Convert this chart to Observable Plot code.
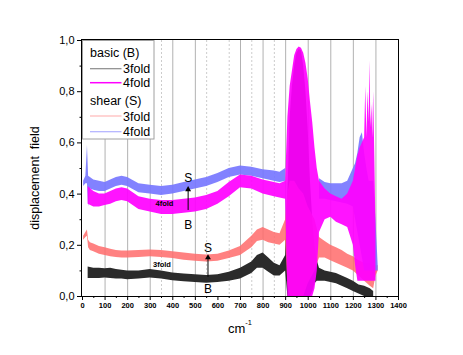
<!DOCTYPE html>
<html><head><meta charset="utf-8">
<script src="https://cdn.jsdelivr.net/npm/d3@7"></script>
<script src="https://cdn.jsdelivr.net/npm/@observablehq/plot@0.6"></script>
<style>body{margin:0;background:#fff;} #chart{width:463px;height:355px;}</style>
</head><body><div id="chart"></div>
<script>
// ---- data (bands = lower / upper edge of the noisy trace) ----
// basic (B) 3fold
const b3X  = [25,50,75,100,125,150,175,200,250,300,350,400,450,500,550,600,650,700,750,775,800,825,850,875,900,910,920,930,940,950,960,970,980,990,1000,1010,1020,1030,1040,1050,1075,1100,1125,1150,1175,1200,1225,1250,1275,1290];
const b3Lo = [0.07,0.07,0.07,0.072,0.07,0.068,0.068,0.065,0.068,0.072,0.068,0.062,0.058,0.055,0.052,0.055,0.06,0.068,0.09,0.11,0.11,0.095,0.08,0.08,0.1,0,0,0,0,0,0,0,0,0,0,0,0.02,0.05,0.06,0.06,0.06,0.055,0.05,0.04,0.03,0.02,0.01,0,0,0];
const b3Hi = [0.115,0.11,0.11,0.108,0.11,0.105,0.103,0.1,0.1,0.105,0.1,0.092,0.088,0.085,0.082,0.085,0.095,0.11,0.135,0.16,0.17,0.15,0.13,0.12,0.16,0.4,0.7,0.82,0.9,0.95,0.965,0.96,0.9,0.8,0.65,0.45,0.3,0.2,0.14,0.11,0.1,0.095,0.09,0.08,0.07,0.06,0.045,0.04,0.03,0.02];
// basic (B) 4fold
const b4X  = [25,50,75,100,125,150,175,200,250,300,350,400,450,500,550,600,650,700,750,800,850,875,900,910,920,930,940,950,960,970,980,990,1000,1010,1020,1030,1040,1050,1075,1100,1125,1150,1175,1200,1210,1220,1230,1240,1250,1255,1260,1265,1270,1273,1278,1282,1286,1290,1295,1300];
const b4Lo = [0.36,0.35,0.35,0.355,0.36,0.37,0.375,0.37,0.34,0.33,0.32,0.32,0.325,0.33,0.34,0.36,0.39,0.425,0.42,0.40,0.39,0.385,0.38,0,0,0,0,0,0,0,0,0,0,0,0,0.03,0.1,0.25,0.3,0.31,0.29,0.28,0.27,0.2,0.12,0.06,0.06,0.06,0.06,0.06,0.06,0.06,0.06,0.06,0.06,0.06,0.06,0.06,0.06,0.06];
const b4Hi = [0.43,0.41,0.40,0.40,0.41,0.42,0.425,0.42,0.39,0.38,0.375,0.375,0.38,0.385,0.395,0.41,0.445,0.475,0.47,0.455,0.445,0.44,0.45,0.7,0.82,0.88,0.94,0.965,0.975,0.97,0.95,0.91,0.85,0.76,0.68,0.58,0.5,0.45,0.42,0.40,0.39,0.38,0.40,0.45,0.5,0.55,0.58,0.6,0.62,0.82,0.62,0.8,0.68,0.92,0.66,0.75,0.62,0.8,0.55,0.28];
// shear (S) 3fold
const s3X  = [5,15,22,27,35,50,75,100,125,150,175,200,250,300,350,400,450,500,550,600,650,700,750,775,800,825,850,875,900,910,920,940,960,980,1000,1030,1050,1075,1100,1125,1150,1175,1200,1225,1250,1275,1290,1300,1310];
const s3Lo = [0.22,0.23,0.235,0.19,0.18,0.175,0.165,0.16,0.155,0.152,0.15,0.15,0.152,0.155,0.152,0.148,0.142,0.138,0.135,0.138,0.148,0.16,0.19,0.215,0.22,0.21,0.205,0.2,0.22,0.05,0,0,0,0,0.05,0.1,0.15,0.15,0.14,0.13,0.12,0.11,0.1,0.08,0.06,0.04,0.03,0.08,0.1];
const s3Hi = [0.235,0.25,0.26,0.22,0.21,0.205,0.195,0.19,0.185,0.18,0.178,0.178,0.18,0.182,0.18,0.175,0.17,0.165,0.162,0.165,0.178,0.195,0.235,0.26,0.27,0.26,0.25,0.245,0.3,0.4,0.45,0.45,0.42,0.4,0.35,0.3,0.23,0.215,0.2,0.19,0.18,0.165,0.155,0.14,0.13,0.13,0.12,0.12,0.12];
// shear (S) 4fold (hidden under the 4fold basic spike between 900 and 1050)
const s4X  = [5,15,22,27,35,50,75,100,125,150,175,200,250,300,350,400,450,500,550,600,650,700,750,800,850,875,900,975,1050,1075,1100,1125,1150,1175,1200,1210,1220,1230,1240,1250,1260,1270,1280,1290,1300,1310];
const s4Lo = [0.43,0.44,0.44,0.35,0.42,0.415,0.41,0.41,0.42,0.43,0.435,0.43,0.405,0.40,0.395,0.40,0.41,0.42,0.43,0.445,0.465,0.475,0.47,0.46,0.45,0.445,0.45,NaN,0.38,0.38,0.375,0.37,0.365,0.36,0.35,0.3,0.25,0.2,0.15,0.1,0.1,0.1,0.1,0.1,0.1,0.1];
const s4Hi = [0.45,0.47,0.59,0.47,0.465,0.455,0.45,0.445,0.455,0.465,0.47,0.465,0.44,0.435,0.43,0.435,0.445,0.455,0.465,0.48,0.50,0.51,0.505,0.495,0.49,0.485,0.5,NaN,0.46,0.445,0.44,0.44,0.44,0.45,0.5,0.52,0.56,0.62,0.64,0.56,0.5,0.45,0.45,0.45,0.3,0.12];

// ticks and grid
const xTicks = d3.range(0, 1401, 100);
const xMinor = d3.range(50, 1400, 100);
const yTicks = [0, 0.2, 0.4, 0.6, 0.8, 1.0];
const yMinor = [0.1, 0.3, 0.5, 0.7, 0.9];
const gridSolid = [100,200,300,400,500,700,800,900,1000,1100,1200,1300];
const gridDotted = [350,550,650,750,850];

// annotations
const annX = [468, 468, 556, 556];
const annY = [0.464, 0.277, 0.19, 0.027];
const annText = ["S", "B", "S", "B"];
const foldX = [363, 352];
const foldY = [0.362, 0.125];
const foldText = ["4fold", "3fold"];
const arrX = [468, 556];
const arrFrom = [0.336, 0.075];
const arrTo = [0.418, 0.152];

// legend
const legendGroups = ["basic (B)", "shear (S)"];
const legendItems = [["3fold", "#8a8a8a"], ["4fold", "#ff00ff"], ["3fold", "#ffb8b8"], ["4fold", "#b0b0ff"]];

const band = (xs, lo, hi) => xs.map((x, i) => ({x, lo: lo[i], hi: hi[i]}));
const B3 = band(b3X, b3Lo, b3Hi), B4 = band(b4X, b4Lo, b4Hi), S3 = band(s3X, s3Lo, s3Hi), S4 = band(s4X, s4Lo, s4Hi);
const ann = annX.map((x, i) => ({x, y: annY[i], t: annText[i]}));
const folds = foldX.map((x, i) => ({x, y: foldY[i], t: foldText[i]}));
const arrows = arrX.map((x, i) => ({x, y1: arrFrom[i], y2: arrTo[i]}));

const FONT = "Arial, 'Liberation Sans', sans-serif";
const plot = Plot.plot({
  width: 463, height: 355,
  marginLeft: 82, marginRight: 65, marginTop: 40, marginBottom: 59,
  style: {fontFamily: FONT, background: "white", overflow: "visible"},
  x: {domain: [0, 1400], label: null},
  y: {domain: [0, 1], label: null},
  marks: [
    Plot.ruleX(gridSolid, {stroke: "#b2b2b2", strokeWidth: 1}),
    Plot.ruleX(gridDotted, {stroke: "#cccccc", strokeDasharray: "2,2"}),
    Plot.areaY(B3, {x: "x", y1: "lo", y2: "hi", fill: "#2b2b2b"}),
    Plot.areaY(S3, {x: "x", y1: "lo", y2: "hi", fill: "#ff6b6b", fillOpacity: 0.85}),
    Plot.areaY(S4, {x: "x", y1: "lo", y2: "hi", fill: "#7474ff", fillOpacity: 0.9}),
    Plot.areaY(B4, {x: "x", y1: "lo", y2: "hi", fill: "#ff00ff", fillOpacity: 0.92}),
    Plot.ruleX(arrows, {x: "x", y1: "y1", y2: "y2", stroke: "black", strokeWidth: 1}),
    Plot.dot(arrows, {x: "x", y: "y2", symbol: "triangle", r: 2.2, fill: "black", stroke: "none"}),
    Plot.text(ann, {x: "x", y: "y", text: "t", fontSize: 12, fill: "black"}),
    Plot.text(folds, {x: "x", y: "y", text: "t", fontSize: 7.5, fontWeight: "bold", fill: "black"}),
    Plot.axisX({ticks: xTicks, tickSize: 4, tickPadding: 2, fontSize: 7.5, fontWeight: "bold", label: null, tickFormat: d => String(d)}),
    Plot.axisX({ticks: xMinor, tickSize: 2, label: null, tickFormat: () => ""}),
    Plot.axisY({ticks: yTicks, tickSize: 5, tickPadding: 3, fontSize: 11, label: null, tickFormat: d => d.toFixed(1).replace(".", ",")}),
    Plot.axisY({ticks: yMinor, tickSize: 2.5, label: null, tickFormat: () => ""})
  ]
});
document.getElementById("chart").appendChild(plot);

// legend box, frame and axis titles
const svg = d3.select(plot);
const lg = svg.append("g").attr("font-family", FONT).attr("font-size", 12.5).attr("text-anchor", "start").attr("fill", "black");
lg.append("rect").attr("x", 82.5).attr("y", 40.5).attr("width", 71.5).attr("height", 98.5).attr("fill", "white").attr("stroke", "#a0a0a0");
svg.append("rect").attr("x", 81.5).attr("y", 39.5).attr("width", 317).attr("height", 257).attr("fill", "none").attr("stroke", "black");
const rowsY = [52.7, 68.7, 82.7, 100, 116, 131.7];
lg.append("text").attr("x", 90).attr("y", rowsY[0] + 4.5).text(legendGroups[0]);
lg.append("text").attr("x", 90).attr("y", rowsY[3] + 4.5).text(legendGroups[1]);
[1, 2, 4, 5].forEach((r, i) => {
  lg.append("line").attr("x1", 90).attr("x2", 121.5).attr("y1", rowsY[r]).attr("y2", rowsY[r]).attr("stroke", legendItems[i][1]).attr("stroke-width", i === 1 ? 1.5 : 1.2);
  lg.append("text").attr("x", 123).attr("y", rowsY[r] + 4.5).text(legendItems[i][0]);
});
svg.append("text").attr("transform", "translate(39,178) rotate(-90)").attr("text-anchor", "middle")
  .attr("font-family", FONT).attr("font-size", 12.5).attr("fill", "black").text("displacement\u00a0 field");
const xl = svg.append("text").attr("x", 240).attr("y", 333).attr("text-anchor", "middle").attr("font-family", FONT).attr("font-size", 13).attr("fill", "black");
xl.append("tspan").text("cm");
xl.append("tspan").attr("font-size", 7.5).attr("dy", -8).text("-1");
</script>
</body></html>
